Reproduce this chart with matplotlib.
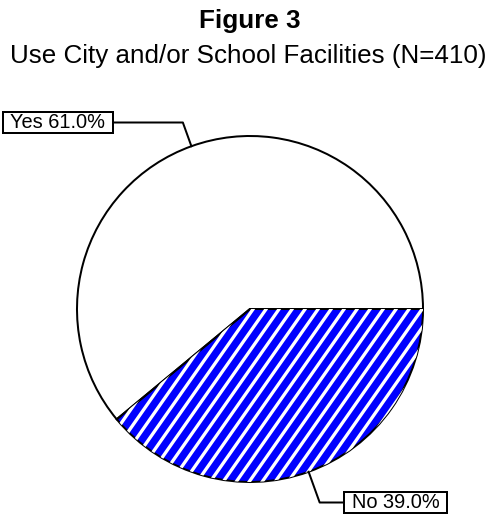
import numpy as np
import matplotlib
matplotlib.use('Agg')
import matplotlib.pyplot as plt
from matplotlib.lines import Line2D
from matplotlib.patches import Rectangle
from matplotlib.collections import LineCollection
from matplotlib.transforms import IdentityTransform

# chart data
labels = ['Yes', 'No']
shares = [61.0, 39.0]
colors = ['white', '#0000ff']
striped = [False, True]

W, H, DPI = 489, 523, 78


def pt(px):  # pixel size -> points
    return px * 72 / DPI


plt.rcParams['font.family'] = ['Liberation Sans', 'DejaVu Sans']

fig = plt.figure(figsize=(W / DPI, H / DPI), dpi=DPI)
fig.patch.set_facecolor('white')

# pie placed by pixel centre / radius
cx, cy, r = 250, 309, 173
ax = fig.add_axes([(cx - r) / W, (H - cy - r) / H, 2 * r / W, 2 * r / H])

wedges, _ = ax.pie(shares, colors=colors, startangle=0, counterclock=True,
                   wedgeprops=dict(linewidth=0))
ax.set_xlim(-1, 1)
ax.set_ylim(-1, 1)
ax.set_aspect('equal')
ax.axis('off')

# white diagonal stripes, clipped to the striped wedge
stripe_dx, stripe_ang = 13, 55
slope = np.tan(np.deg2rad(stripe_ang))
(px0, py0), (px1, py1) = ax.transData.transform([(-1.05, -1.05), (1.05, 1.05)])
run = (py1 - py0) / slope
for w, s in zip(wedges, striped):
    if not s:
        continue
    segs = [[(x, py0), (x + run, py1)] for x in np.arange(px0 - run, px1, stripe_dx)]
    lc = LineCollection(segs, colors='white', linewidths=pt(3.3),
                        transform=IdentityTransform())
    lc.set_clip_path(w)
    ax.add_collection(lc, autolim=False)

outline, _ = ax.pie(shares, startangle=0, counterclock=True,
                    wedgeprops=dict(fill=False, edgecolor='black', linewidth=pt(2)))
for w in outline:
    w.set_clip_on(False)
ax.set_xlim(-1, 1)
ax.set_ylim(-1, 1)

# titles
fig.text(250 / W, 1 - 28 / H, 'Figure 3', ha='center', va='baseline',
         fontsize=pt(26), fontweight='bold')
fig.text(248 / W, 1 - 63 / H, 'Use City and/or School Facilities (N=410)',
         ha='center', va='baseline', fontsize=pt(26))

# label boxes (left, top, right, bottom in top-origin pixels)
boxes = [(3, 112, 113, 133), (344, 492, 447, 513)]
to_fig = fig.transFigure.inverted()
for w, lab, val, (x0, y0, x1, y1) in zip(wedges, labels, shares, boxes):
    fig.add_artist(Rectangle((x0 / W, 1 - y1 / H), (x1 - x0) / W, (y1 - y0) / H,
                             transform=fig.transFigure, facecolor='white',
                             edgecolor='black', linewidth=pt(2)))
    fig.text((x0 + x1) / 2 / W, 1 - (y1 - 5) / H, f'{lab} {val:.1f}%',
             ha='center', va='baseline', fontsize=pt(20))
    # leader line: box side -> elbow -> wedge edge at mid angle
    th = np.deg2rad((w.theta1 + w.theta2) / 2)
    ex, ey = ax.transData.transform((np.cos(th), np.sin(th)))
    ly = H - (y0 + y1) / 2
    kx = ex + (ly - ey) * np.cos(th) / np.sin(th)
    bx = x1 if kx > x1 else x0
    pts = to_fig.transform([(bx, ly), (kx, ly), (ex, ey)])
    fig.add_artist(Line2D(pts[:, 0], pts[:, 1], transform=fig.transFigure,
                          color='black', linewidth=pt(2)))

fig.savefig('out.png', dpi=DPI, facecolor='white')
